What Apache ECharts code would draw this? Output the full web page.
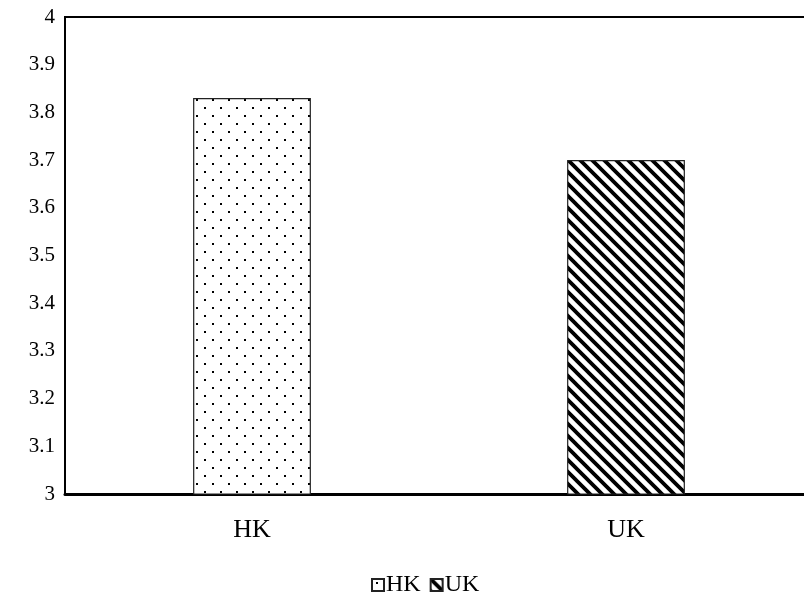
<!DOCTYPE html>
<html>
<head>
<meta charset="utf-8">
<script src="https://cdn.jsdelivr.net/npm/echarts@6/dist/echarts.min.js"></script>
<style>
  html, body { margin: 0; padding: 0; background: #fff; overflow: hidden; width: 804px; height: 604px; }
  #chart { width: 820px; height: 604px; }
</style>
</head>
<body>
<div id="chart"></div>
<script>
// Mean scores by region
var categories = ['HK', 'UK'];
var seriesNames = ['HK', 'UK'];
var hkValues = [3.83, '-'];
var ukValues = ['-', 3.7];

// Fill patterns: sparse dots and backslash hatching
function dotTile() {
  var c = document.createElement('canvas');
  c.width = 16; c.height = 16;
  var g = c.getContext('2d');
  g.fillStyle = '#fff';
  g.fillRect(0, 0, 16, 16);
  g.fillStyle = '#000';
  g.fillRect(4, 3, 2, 2);
  g.fillRect(12, 11, 2, 2);
  return c;
}
function hatchTile() {
  var s = 12;
  var c = document.createElement('canvas');
  c.width = s; c.height = s;
  var g = c.getContext('2d');
  g.fillStyle = '#fff';
  g.fillRect(0, 0, s, s);
  g.strokeStyle = '#000';
  g.lineWidth = 3.8;
  g.beginPath();
  g.moveTo(-s, 0); g.lineTo(s, 2 * s);
  g.moveTo(0, 0); g.lineTo(s, s);
  g.moveTo(0, -s); g.lineTo(2 * s, s);
  g.stroke();
  return c;
}

var font = '"Liberation Serif", "Times New Roman", serif';
var chart = echarts.init(document.getElementById('chart'), null, { renderer: 'canvas' });
chart.setOption({
  animation: false,
  textStyle: { fontFamily: font, color: '#000' },
  grid: {
    left: 65, right: 7, top: 17, bottom: 110,
    show: true, borderColor: '#000', borderWidth: 2, backgroundColor: 'transparent'
  },
  legend: {
    data: seriesNames,
    bottom: 2,
    left: 366,
    icon: 'rect',
    itemWidth: 12,
    itemHeight: 12,
    itemGap: 9,
    textStyle: { fontFamily: font, fontSize: 24, color: '#000', padding: [0, 0, 0, -3] }
  },
  xAxis: {
    type: 'category',
    data: categories,
    axisLine: { lineStyle: { color: '#000', width: 3 } },
    axisTick: { show: false },
    axisLabel: { fontFamily: font, fontSize: 26, color: '#000', margin: 23 }
  },
  yAxis: {
    type: 'value',
    min: 3,
    max: 4,
    interval: 0.1,
    axisLine: { show: true, lineStyle: { color: '#000', width: 1.5 } },
    axisTick: { show: false },
    splitLine: { show: false },
    axisLabel: { fontFamily: font, fontSize: 21, color: '#000', margin: 10,
      formatter: function (v) { return +v.toFixed(1) + ''; } }
  },
  series: [
    {
      name: seriesNames[0], type: 'bar', stack: 'all', barWidth: '31.5%',
      data: hkValues,
      itemStyle: { color: { image: dotTile(), repeat: 'repeat' }, borderColor: '#222', borderWidth: 1.2 }
    },
    {
      name: seriesNames[1], type: 'bar', stack: 'all', barWidth: '31.5%',
      data: ukValues,
      itemStyle: { color: { image: hatchTile(), repeat: 'repeat' }, borderColor: '#222', borderWidth: 1.2 }
    }
  ]
});
</script>
</body>
</html>
